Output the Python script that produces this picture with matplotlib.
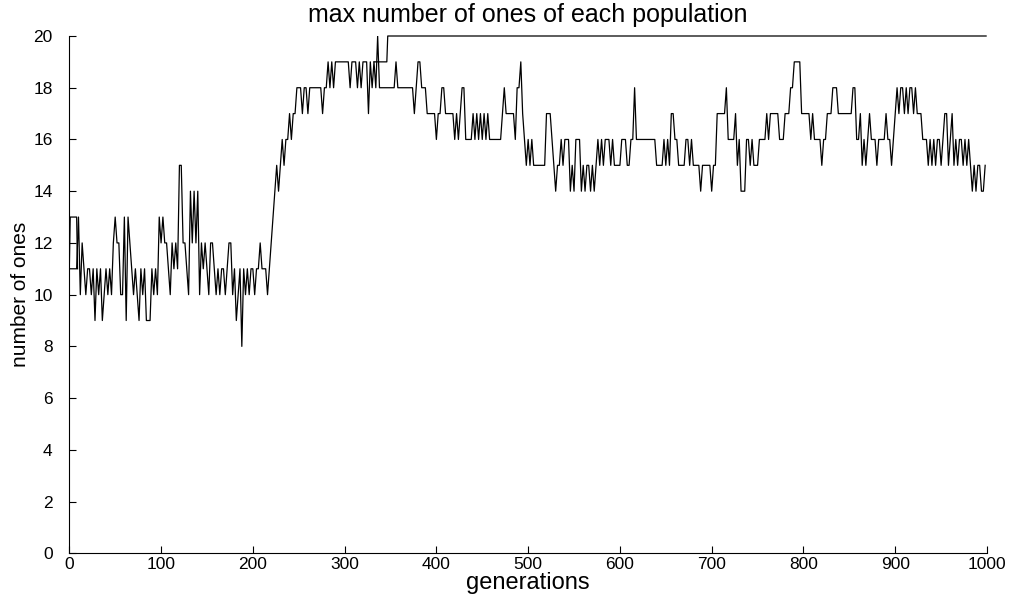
import numpy as np
import matplotlib
matplotlib.use("Agg")
import matplotlib.pyplot as plt

plt.rcParams["font.family"] = ["Liberation Sans", "DejaVu Sans"]

# max number of ones in the population, read every 2nd generation
max_ones = [
    11, 11, 11, 11, 11, 13, 10, 12, 11, 10,
    11, 11, 10, 11, 9, 11, 10, 11, 9, 10,
    11, 10, 11, 10, 12, 13, 12, 12, 10, 10,
    13, 9, 13, 12, 11, 10, 11, 10, 9, 11,
    10, 11, 9, 9, 9, 11, 10, 11, 10, 13,
    12, 13, 12, 12, 11, 10, 12, 11, 12, 11,
    15, 15, 12, 12, 11, 10, 14, 12, 14, 12,
    14, 10, 12, 11, 12, 11, 10, 12, 12, 11,
    10, 11, 10, 11, 11, 10, 11, 12, 12, 10,
    11, 9, 10, 11, 8, 11, 10, 11, 10, 11,
    11, 10, 11, 11, 12, 11, 11, 11, 10, 11,
    12, 13, 14, 15, 14, 15, 16, 15, 16, 16,
    17, 16, 17, 17, 18, 18, 18, 17, 18, 18,
    17, 18, 18, 18, 18, 18, 18, 18, 17, 18,
    18, 19, 18, 19, 18, 19, 19, 19, 19, 19,
    19, 19, 19, 18, 19, 19, 19, 18, 19, 18,
    19, 19, 19, 17, 19, 18, 19, 18, 20, 18,
    18, 18, 18, 18, 18, 18, 18, 18, 19, 18,
    18, 18, 18, 18, 18, 18, 18, 18, 17, 18,
    19, 19, 18, 18, 18, 17, 17, 17, 17, 17,
    16, 17, 17, 18, 18, 17, 17, 17, 17, 17,
    16, 17, 16, 17, 18, 18, 16, 16, 16, 16,
    17, 16, 17, 16, 17, 16, 17, 16, 17, 16,
    16, 16, 16, 16, 16, 16, 17, 18, 17, 17,
    17, 17, 17, 16, 18, 18, 19, 17, 16, 15,
    16, 15, 16, 15, 15, 15, 15, 15, 15, 15,
    17, 17, 17, 16, 15, 14, 15, 15, 16, 15,
    16, 16, 16, 14, 15, 14, 16, 16, 16, 14,
    15, 14, 15, 15, 14, 15, 14, 15, 16, 15,
    16, 15, 16, 16, 16, 15, 16, 15, 15, 15,
    15, 16, 16, 16, 15, 15, 16, 16, 18, 16,
    16, 16, 16, 16, 16, 16, 16, 16, 16, 16,
    15, 15, 15, 15, 16, 15, 16, 15, 17, 17,
    16, 16, 15, 15, 15, 15, 16, 16, 15, 16,
    15, 15, 15, 15, 14, 15, 15, 15, 15, 15,
    14, 15, 15, 17, 17, 17, 17, 17, 18, 16,
    16, 16, 16, 17, 15, 16, 14, 14, 14, 16,
    16, 15, 16, 15, 15, 15, 16, 16, 16, 16,
    17, 16, 17, 17, 17, 17, 17, 16, 16, 16,
    17, 17, 17, 18, 18, 19, 19, 19, 19, 17,
    17, 17, 17, 17, 16, 17, 16, 16, 16, 16,
    15, 16, 16, 17, 17, 17, 18, 18, 18, 17,
    17, 17, 17, 17, 17, 17, 17, 18, 18, 16,
    16, 17, 15, 16, 15, 16, 17, 16, 16, 16,
    15, 16, 16, 16, 16, 17, 16, 16, 15, 16,
    17, 18, 17, 18, 18, 17, 18, 17, 18, 18,
    17, 18, 17, 17, 17, 16, 16, 16, 15, 16,
    15, 16, 15, 16, 16, 15, 16, 17, 17, 15,
    16, 17, 15, 16, 15, 16, 16, 15, 16, 15,
    16, 15, 14, 15, 14, 15, 15, 14, 14, 15,
]
generations = np.arange(0, 1000, 2)

# second curve, where it leaves the first one
start_gens = [0, 1, 8, 9]
start_vals = [11, 13, 13, 11]
best_gens = [332, 346, 347, 999]
best_vals = [19, 19, 20, 20]

fig = plt.figure(figsize=(10.13, 6), dpi=100)
ax = fig.add_axes([69.3 / 1013, 1 - 553.3 / 600, (987 - 69.3) / 1013, (553.3 - 36) / 600])

ax.plot(generations, max_ones, color="black", lw=0.9)
ax.plot(start_gens, start_vals, color="black", lw=0.9)
ax.plot(best_gens, best_vals, color="black", lw=0.9, clip_on=False)

ax.set_xlim(0, 1000)
ax.set_ylim(0, 20)
ax.set_xticks(np.arange(0, 1001, 100))
ax.set_yticks(np.arange(0, 21, 2))
ax.spines["top"].set_visible(False)
ax.spines["right"].set_visible(False)
for s in ["left", "bottom"]:
    ax.spines[s].set_linewidth(0.8)
ax.tick_params(direction="in", length=5, width=0.8, labelsize=12.5)
ax.tick_params(axis="x", pad=3)
ax.tick_params(axis="y", pad=12)

ax.set_title("max number of ones of each population", fontsize=18, pad=10)
ax.set_xlabel("generations", fontsize=17, labelpad=0)
ax.set_ylabel("number of ones", fontsize=15, labelpad=2,
              family=["Liberation Sans Narrow", "Liberation Sans"])

fig.savefig("out.png", dpi=100)
